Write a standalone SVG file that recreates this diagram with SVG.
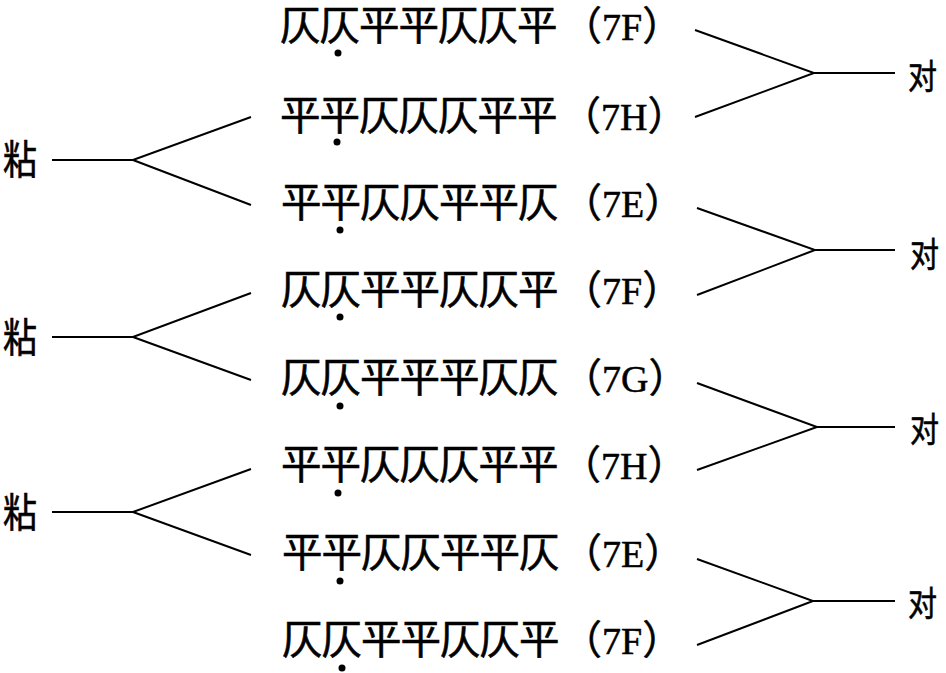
<svg xmlns="http://www.w3.org/2000/svg" width="946" height="673" viewBox="0 0 946 673">
<style>
.cjk{font-family:"Noto Sans CJK SC",sans-serif;font-size:40.5px;letter-spacing:-1px;fill:#000;stroke:#000;stroke-width:0.6}
.lab{font-family:"Noto Sans CJK SC",sans-serif;font-size:40px;fill:#000;stroke:#000;stroke-width:0.5}
.lat{font-family:"Liberation Serif",serif;font-size:38px}
.side{font-family:"Noto Sans CJK SC",sans-serif;font-size:40px;fill:#000;stroke:#000;stroke-width:0.6}
.sm{font-size:34px}
.dot{fill:#000}
.ln{stroke:#000;stroke-width:2;fill:none}
</style>
<rect width="946" height="673" fill="#fff"/>
<g id="connectors">
  <path class="ln" d="M52,160 H133 L251,117 M133,160 L251,205"/>
  <path class="ln" d="M52,337 H133 L251,293 M133,337 L251,380"/>
  <path class="ln" d="M52,512 H133 L251,469 M133,512 L251,555"/>
  <path class="ln" d="M695,30 L814,73 L695,117 M814,73 H895"/>
  <path class="ln" d="M697,208 L815,250 L697,295 M815,250 H895"/>
  <path class="ln" d="M697,383 L817,427 L697,470 M817,427 H895"/>
  <path class="ln" d="M697,559 L813,601 L697,645 M813,601 H895"/>
</g>
<g id="zhan1"><text class="side" x="3" y="174" textLength="34" lengthAdjust="spacingAndGlyphs">粘</text></g>
<g id="zhan2"><text class="side" x="3" y="352" textLength="34" lengthAdjust="spacingAndGlyphs">粘</text></g>
<g id="zhan3"><text class="side" x="3" y="527" textLength="34" lengthAdjust="spacingAndGlyphs">粘</text></g>
<g id="dui1"><text class="side sm" x="908" y="89" textLength="29" lengthAdjust="spacingAndGlyphs">对</text></g>
<g id="dui2"><text class="side sm" x="910" y="267" textLength="29" lengthAdjust="spacingAndGlyphs">对</text></g>
<g id="dui3"><text class="side sm" x="910" y="442" textLength="29" lengthAdjust="spacingAndGlyphs">对</text></g>
<g id="dui4"><text class="side sm" x="908" y="616" textLength="29" lengthAdjust="spacingAndGlyphs">对</text></g>
<g id="row1">
  <text class="cjk" x="280" y="40">仄仄平平仄仄平</text>
  <text class="lab" x="562" y="40">（<tspan class="lat">7F</tspan>）</text>
  <circle class="dot" cx="338" cy="53" r="3.5"/>
</g>
<g id="row2">
  <text class="cjk" x="280" y="130">平平仄仄仄平平</text>
  <text class="lab" x="561" y="130">（<tspan class="lat">7H</tspan>）</text>
  <circle class="dot" cx="337" cy="142" r="3.5"/>
</g>
<g id="row3">
  <text class="cjk" x="281" y="217">平平仄仄平平仄</text>
  <text class="lab" x="562" y="217">（<tspan class="lat">7E</tspan>）</text>
  <circle class="dot" cx="340" cy="230" r="3.5"/>
</g>
<g id="row4">
  <text class="cjk" x="281" y="304">仄仄平平仄仄平</text>
  <text class="lab" x="562" y="304">（<tspan class="lat">7F</tspan>）</text>
  <circle class="dot" cx="340" cy="317" r="3.5"/>
</g>
<g id="row5">
  <text class="cjk" x="281" y="392">仄仄平平平仄仄</text>
  <text class="lab" x="562" y="392">（<tspan class="lat">7G</tspan>）</text>
  <circle class="dot" cx="340" cy="406" r="3.5"/>
</g>
<g id="row6">
  <text class="cjk" x="281" y="479">平平仄仄仄平平</text>
  <text class="lab" x="561" y="479">（<tspan class="lat">7H</tspan>）</text>
  <circle class="dot" cx="338" cy="493" r="3.5"/>
</g>
<g id="row7">
  <text class="cjk" x="282" y="567">平平仄仄平平仄</text>
  <text class="lab" x="562" y="567">（<tspan class="lat">7E</tspan>）</text>
  <circle class="dot" cx="340" cy="581" r="3.5"/>
</g>
<g id="row8">
  <text class="cjk" x="282" y="654">仄仄平平仄仄平</text>
  <text class="lab" x="562" y="654">（<tspan class="lat">7F</tspan>）</text>
  <circle class="dot" cx="342" cy="668" r="3.5"/>
</g>
</svg>
